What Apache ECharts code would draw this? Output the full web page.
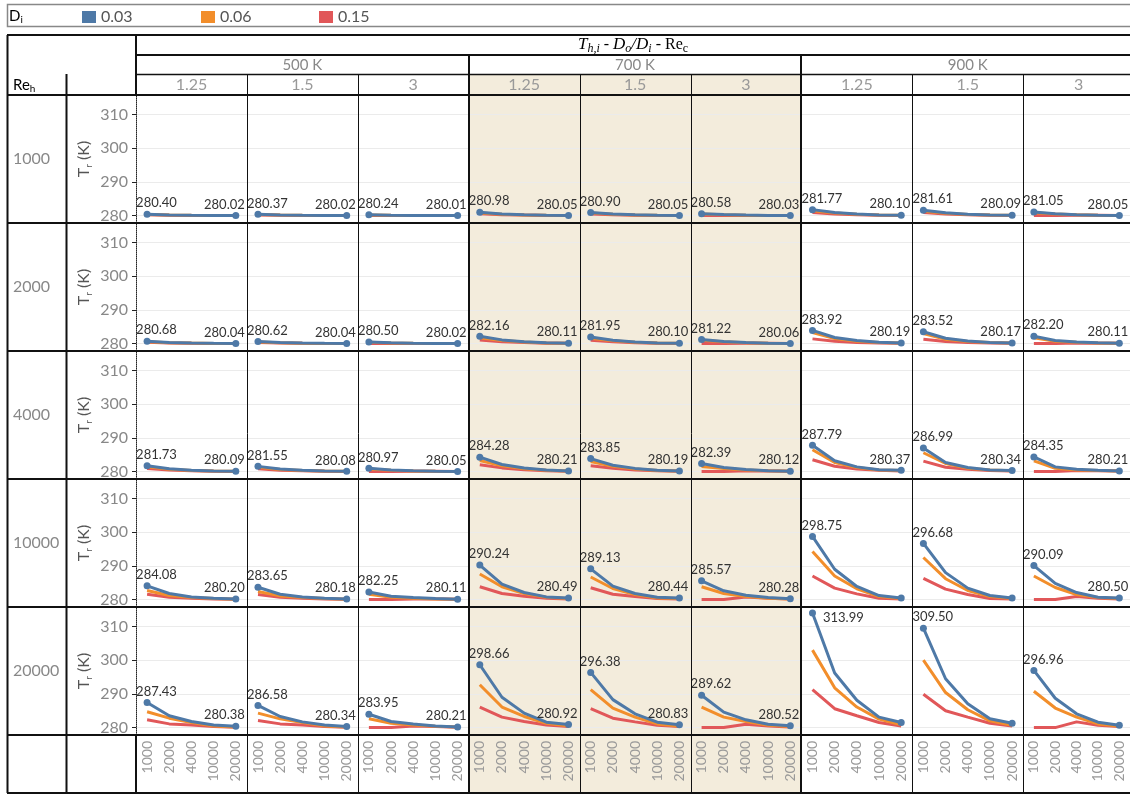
<!DOCTYPE html>
<html>
<head>
<meta charset="utf-8">
<script src="https://cdn.jsdelivr.net/npm/echarts@6/dist/echarts.min.js"></script>
<style>
  html, body { margin: 0; padding: 0; background: #fff; }
  #main { width: 1130px; height: 795px; }
</style>
</head>
<body>
<div id="main"></div>
<script>
// categories
var reC = ["1000", "2000", "4000", "10000", "20000"];
var reH = ["1000", "2000", "4000", "10000", "20000"];
var temps = ["500 K", "700 K", "900 K"];
var ratios = ["1.25", "1.5", "3"];
var diNames = ["0.03", "0.06", "0.15"];
var yTicks = [280, 290, 300, 310];

// Di = 0.03 (blue), one row of Re_h per array, 9 cells: 500K(1.25,1.5,3), 700K(..), 900K(..)
var blue1000 = [
  [280.40, 280.20, 280.10, 280.05, 280.02], [280.37, 280.18, 280.09, 280.04, 280.02], [280.24, 280.12, 280.06, 280.03, 280.01],
  [280.98, 280.50, 280.25, 280.10, 280.05], [280.90, 280.45, 280.23, 280.10, 280.05], [280.58, 280.30, 280.15, 280.06, 280.03],
  [281.77, 280.90, 280.45, 280.20, 280.10], [281.61, 280.82, 280.42, 280.18, 280.09], [281.05, 280.55, 280.28, 280.12, 280.05]
];
var blue2000 = [
  [280.68, 280.35, 280.17, 280.08, 280.04], [280.62, 280.32, 280.16, 280.07, 280.04], [280.50, 280.25, 280.12, 280.05, 280.02],
  [282.16, 281.10, 280.55, 280.22, 280.11], [281.95, 281.00, 280.50, 280.20, 280.10], [281.22, 280.62, 280.30, 280.12, 280.06],
  [283.92, 281.80, 280.90, 280.40, 280.19], [283.52, 281.60, 280.80, 280.35, 280.17], [282.20, 280.90, 280.50, 280.25, 280.11]
];
var blue4000 = [
  [281.73, 280.85, 280.42, 280.18, 280.09], [281.55, 280.78, 280.38, 280.16, 280.08], [280.97, 280.48, 280.24, 280.10, 280.05],
  [284.28, 282.10, 281.05, 280.45, 280.21], [283.85, 281.90, 280.95, 280.40, 280.19], [282.39, 281.20, 280.60, 280.26, 280.12],
  [287.79, 283.20, 281.40, 280.55, 280.37], [286.99, 282.70, 281.20, 280.50, 280.34], [284.35, 281.40, 280.70, 280.40, 280.21]
];
var blue10000 = [
  [284.08, 281.80, 280.80, 280.40, 280.20], [283.65, 281.60, 280.80, 280.40, 280.18], [282.25, 281.00, 280.60, 280.30, 280.11],
  [290.24, 284.60, 282.10, 280.80, 280.49], [289.13, 284.00, 281.80, 280.70, 280.44], [285.57, 282.60, 281.30, 280.60, 280.28],
  [298.75, 289.00, 283.90, 281.20, 280.50], [296.68, 288.00, 283.40, 281.20, 280.50], [290.09, 284.80, 282.10, 280.70, 280.50]
];
var blue20000 = [
  [287.43, 283.50, 281.80, 280.80, 280.38], [286.58, 283.30, 281.70, 280.80, 280.34], [283.95, 281.80, 281.10, 280.50, 280.21],
  [298.66, 289.00, 284.30, 281.60, 280.92], [296.38, 288.30, 284.10, 281.60, 280.83], [289.62, 284.60, 282.30, 281.00, 280.52],
  [313.99, 296.20, 288.10, 283.10, 281.50], [309.50, 294.50, 287.10, 282.60, 281.30], [296.96, 288.70, 284.10, 281.60, 280.70]
];

// Di = 0.06 (orange)
var orange1000 = [
  [280.32, 280.16, 280.08, 280.04, 280.02], [280.30, 280.15, 280.07, 280.04, 280.02], [280.20, 280.10, 280.05, 280.02, 280.01],
  [280.80, 280.40, 280.20, 280.08, 280.04], [280.75, 280.38, 280.19, 280.08, 280.04], [280.48, 280.25, 280.12, 280.05, 280.03],
  [281.45, 280.75, 280.38, 280.17, 280.08], [281.30, 280.68, 280.35, 280.15, 280.08], [280.85, 280.45, 280.23, 280.10, 280.05]
];
var orange2000 = [
  [280.55, 280.28, 280.14, 280.06, 280.03], [280.50, 280.26, 280.13, 280.06, 280.03], [280.40, 280.20, 280.10, 280.04, 280.02],
  [281.75, 280.90, 280.45, 280.18, 280.09], [281.60, 280.82, 280.42, 280.17, 280.09], [281.00, 280.52, 280.26, 280.11, 280.05],
  [283.30, 281.50, 280.70, 280.30, 280.15], [283.00, 281.30, 280.60, 280.30, 280.15], [281.70, 280.70, 280.40, 280.20, 280.10]
];
var orange4000 = [
  [281.40, 280.70, 280.35, 280.15, 280.08], [281.25, 280.64, 280.32, 280.14, 280.07], [280.80, 280.40, 280.20, 280.09, 280.04],
  [283.30, 281.70, 280.85, 280.38, 280.18], [283.00, 281.55, 280.78, 280.35, 280.17], [281.50, 280.90, 280.45, 280.22, 280.11],
  [286.50, 282.70, 281.20, 280.50, 280.30], [285.60, 282.40, 281.00, 280.45, 280.28], [283.20, 281.00, 280.50, 280.30, 280.20]
];
var orange10000 = [
  [282.70, 281.20, 280.60, 280.30, 280.10], [282.40, 281.10, 280.60, 280.30, 280.10], [281.60, 280.70, 280.40, 280.20, 280.10],
  [287.60, 283.80, 281.80, 280.70, 280.30], [286.70, 283.30, 281.50, 280.50, 280.30], [283.80, 281.80, 280.90, 280.40, 280.20],
  [294.30, 287.00, 283.20, 280.90, 280.30], [292.50, 286.20, 282.70, 280.90, 280.30], [287.00, 283.60, 281.50, 280.60, 280.30]
];
var orange20000 = [
  [284.70, 282.80, 281.50, 280.50, 280.20], [284.30, 282.60, 281.50, 280.50, 280.20], [282.60, 281.30, 280.80, 280.40, 280.20],
  [292.70, 286.10, 283.30, 281.30, 280.50], [291.30, 285.80, 283.10, 281.10, 280.40], [286.10, 283.10, 281.80, 280.70, 280.30],
  [303.00, 291.80, 286.10, 282.50, 280.80], [300.00, 290.40, 285.30, 282.00, 280.70], [290.80, 285.80, 283.10, 281.10, 280.40]
];

// Di = 0.15 (red)
var red1000 = [
  [280.22, 280.10, 280.05, 280.03, 280.01], [280.20, 280.10, 280.05, 280.03, 280.01], [280.00, 280.00, 280.02, 280.01, 280.01],
  [280.55, 280.28, 280.14, 280.06, 280.03], [280.50, 280.26, 280.13, 280.06, 280.03], [280.00, 280.00, 280.06, 280.04, 280.02],
  [280.95, 280.50, 280.25, 280.12, 280.06], [280.90, 280.47, 280.24, 280.11, 280.06], [280.00, 280.00, 280.10, 280.07, 280.04]
];
var red2000 = [
  [280.38, 280.19, 280.10, 280.05, 280.02], [280.35, 280.18, 280.09, 280.04, 280.02], [280.00, 280.00, 280.05, 280.03, 280.02],
  [281.10, 280.58, 280.30, 280.13, 280.07], [281.00, 280.52, 280.27, 280.12, 280.06], [280.00, 280.00, 280.12, 280.08, 280.05],
  [281.40, 280.70, 280.35, 280.15, 280.10], [281.30, 280.65, 280.32, 280.15, 280.10], [280.00, 280.00, 280.15, 280.12, 280.08]
];
var red4000 = [
  [280.90, 280.47, 280.24, 280.11, 280.05], [280.82, 280.43, 280.22, 280.10, 280.05], [280.00, 280.00, 280.10, 280.07, 280.04],
  [282.00, 281.10, 280.55, 280.26, 280.13], [281.70, 281.00, 280.50, 280.24, 280.12], [280.00, 280.00, 280.25, 280.17, 280.10],
  [283.50, 281.60, 280.80, 280.40, 280.20], [283.10, 281.30, 280.70, 280.30, 280.20], [280.00, 280.00, 280.30, 280.25, 280.20]
];
var red10000 = [
  [281.60, 280.70, 280.40, 280.20, 280.10], [281.50, 280.70, 280.40, 280.20, 280.10], [280.00, 280.00, 280.20, 280.15, 280.10],
  [283.80, 281.80, 281.00, 280.40, 280.20], [283.50, 281.60, 280.90, 280.30, 280.20], [280.00, 280.00, 280.80, 280.40, 280.20],
  [287.00, 283.40, 281.70, 280.40, 280.20], [286.30, 283.10, 281.50, 280.30, 280.20], [280.00, 280.00, 280.90, 280.40, 280.20]
];
var red20000 = [
  [282.30, 281.10, 280.80, 280.30, 280.10], [282.10, 281.10, 280.80, 280.30, 280.10], [280.00, 280.00, 280.50, 280.30, 280.10],
  [286.10, 283.10, 281.80, 280.80, 280.30], [285.60, 282.80, 281.70, 280.70, 280.30], [280.00, 280.00, 281.00, 280.50, 280.20],
  [291.30, 285.60, 283.50, 281.50, 280.50], [289.90, 285.00, 283.10, 281.30, 280.50], [280.00, 280.00, 281.70, 280.70, 280.30]
];

// cells [row, col] where the end label is not drawn
var hiddenEndLabels = [[3, 6], [3, 7], [4, 6], [4, 7], [4, 8]];

var diValues = [
  [blue1000, blue2000, blue4000, blue10000, blue20000],
  [orange1000, orange2000, orange4000, orange10000, orange20000],
  [red1000, red2000, red4000, red10000, red20000]
];
var diColors = ["#4e79a7", "#f28e2b", "#e15759"];

var font = 'Lato, "Noto Sans", sans-serif';
var serif = '"Liberation Serif", "DejaVu Serif", serif';
var x0 = 136, y0 = 95, cellW = 110.9, cellH = 128;
var yMin = 277.8, yMax = 315.8;

var myChart = echarts.init(document.getElementById("main"));

var grids = [], xAxes = [], yAxes = [], series = [];

function isHidden(r, c) {
  for (var i = 0; i < hiddenEndLabels.length; i++) {
    if (hiddenEndLabels[i][0] === r && hiddenEndLabels[i][1] === c) return true;
  }
  return false;
}

for (var r = 0; r < reH.length; r++) {
  for (var c = 0; c < 9; c++) {
    var idx = r * 9 + c;
    grids.push({
      left: x0 + c * cellW,
      top: y0 + r * cellH,
      width: cellW,
      height: cellH
    });
    xAxes.push({
      gridIndex: idx,
      type: "category",
      data: reC,
      boundaryGap: true,
      axisLine: { show: false },
      axisTick: { show: false },
      splitLine: { show: false },
      axisLabel: {
        show: r === reH.length - 1,
        rotate: 90,
        margin: 6,
        interval: 0,
        color: "#999",
        fontSize: 14,
        fontFamily: font
      }
    });
    yAxes.push({
      gridIndex: idx,
      type: "value",
      min: yMin,
      max: yMax,
      name: c === 0 ? "{a|T}{b|r}{a| (K)}" : "",
      nameLocation: "middle",
      nameGap: 42,
      nameRotate: 90,
      nameTextStyle: {
        rich: {
          a: { fontSize: 16, color: "#555", fontFamily: font, lineHeight: 20, verticalAlign: "middle" },
          b: { fontSize: 10, color: "#555", fontFamily: font, lineHeight: 10, verticalAlign: "bottom" }
        }
      },
      axisLine: { show: c === 0, lineStyle: { type: "dotted", color: "#222", width: 1 } },
      axisTick: { show: c === 0, length: 4, customValues: yTicks, lineStyle: { color: "#222" } },
      axisLabel: {
        show: c === 0,
        customValues: yTicks,
        margin: 8,
        color: "#888",
        fontSize: 16,
        fontFamily: font
      },
      splitLine: { show: true, lineStyle: { color: "#ebebeb", width: 1 } }
    });

    // red first, blue last so blue is on top
    for (var d = 2; d >= 0; d--) {
      var vals = diValues[d][r][c];
      var data = vals.map(function(v, i) {
        if (d !== 0) return v;
        var item = { value: v };
        if (i === 0 || i === vals.length - 1) {
          var last = i === vals.length - 1;
          var lbl = {
            show: !(last && isHidden(r, c)),
            formatter: v.toFixed(2),
            color: "#333",
            fontSize: 13,
            fontFamily: font
          };
          if (v > 312) {
            lbl.position = "right";
            lbl.distance = 7;
            lbl.offset = [0, 5];
          } else {
            lbl.position = "top";
            lbl.distance = 1;
            lbl.align = last ? "right" : "left";
            lbl.offset = last ? [9, 0] : [-11, 0];
          }
          item.label = lbl;
        } else {
          item.symbol = "none";
        }
        return item;
      });
      series.push({
        type: "line",
        name: diNames[d],
        xAxisIndex: idx,
        yAxisIndex: idx,
        data: data,
        symbol: "circle",
        symbolSize: 7,
        showSymbol: d === 0,
        showAllSymbol: true,
        silent: true,
        lineStyle: { width: 3, color: diColors[d] },
        itemStyle: { color: diColors[d] }
      });
    }
  }
}

// table lines and header texts
var graphics = [];
var totalRight = 1130;
var tableBottom = 793;
var plotBottom = y0 + reH.length * cellH;

function hline(x1, x2, y, w) {
  graphics.push({ type: "line", shape: { x1: x1, y1: y, x2: x2, y2: y }, style: { stroke: "#111", lineWidth: w }, z: 10 });
}
function vline(x, y1, y2, w) {
  graphics.push({ type: "line", shape: { x1: x, y1: y1, x2: x, y2: y2 }, style: { stroke: "#111", lineWidth: w }, z: 10 });
}

// 700 K background
graphics.push({
  type: "rect",
  shape: { x: x0 + 3 * cellW, y: 74, width: 3 * cellW, height: tableBottom - 74 },
  style: { fill: "#f3ecdc" },
  z: -10
});

// legend box
graphics.push({
  type: "rect",
  shape: { x: 7.5, y: 4.5, width: 1130, height: 22 },
  style: { fill: null, stroke: "#888", lineWidth: 1.5 },
  z: 10
});
graphics.push({
  type: "text",
  style: {
    text: "{a|D}{b|i}", x: 9, y: 16, verticalAlign: "middle",
    rich: {
      a: { fontSize: 15, color: "#333", fontFamily: font, lineHeight: 18, verticalAlign: "middle" },
      b: { fontSize: 10, color: "#333", fontFamily: font, lineHeight: 9, verticalAlign: "bottom" }
    }
  },
  z: 10
});

hline(7, totalRight, 35, 2);
hline(x0, totalRight, 55, 2);
hline(x0, totalRight, 74.5, 1.5);
hline(7, totalRight, y0, 2);
for (var k = 1; k <= reH.length; k++) hline(7, totalRight, y0 + k * cellH, 2);
hline(7, totalRight, tableBottom, 2);
vline(7.5, 35, tableBottom, 2);
vline(66.5, 74, tableBottom, 2);
vline(x0, 35, y0, 2);
vline(x0, plotBottom, tableBottom, 2);
for (var k = 1; k < 9; k++) {
  var xx = x0 + k * cellW;
  if (k % 3 === 0) vline(Math.round(xx), 55, tableBottom, 2);
  else vline(Math.round(xx) + 0.5, 74, tableBottom, 1);
}

// title
graphics.push({
  type: "text",
  style: {
    text: "{ti|T}{ts|h,i}{n| - }{ti|D}{ts|o}{ti|/D}{ts|i}{n| - Re}{ns|c}",
    x: (x0 + totalRight) / 2, y: 45, align: "center", verticalAlign: "middle",
    rich: {
      ti: { fontFamily: serif, fontStyle: "italic", fontSize: 17, color: "#222", lineHeight: 20, verticalAlign: "middle" },
      ts: { fontFamily: serif, fontStyle: "italic", fontSize: 12, color: "#222", lineHeight: 10, verticalAlign: "bottom" },
      n: { fontFamily: serif, fontSize: 16, color: "#222", lineHeight: 20, verticalAlign: "middle" },
      ns: { fontFamily: serif, fontSize: 12, color: "#222", lineHeight: 10, verticalAlign: "bottom" }
    }
  },
  z: 10
});

temps.forEach(function(t, i) {
  graphics.push({
    type: "text",
    style: { text: t, x: x0 + (i * 3 + 1.5) * cellW, y: 65, align: "center", verticalAlign: "middle", fontSize: 15, fill: "#888", fontFamily: font },
    z: 10
  });
  ratios.forEach(function(rt, j) {
    graphics.push({
      type: "text",
      style: { text: rt, x: x0 + (i * 3 + j + 0.5) * cellW, y: 85, align: "center", verticalAlign: "middle", fontSize: 16, fill: "#999", fontFamily: font },
      z: 10
    });
  });
});

graphics.push({
  type: "text",
  style: {
    text: "{a|Re}{b|h}", x: 13, y: 85, verticalAlign: "middle",
    rich: {
      a: { fontSize: 15, color: "#333", fontFamily: font, lineHeight: 18, verticalAlign: "middle" },
      b: { fontSize: 10, color: "#333", fontFamily: font, lineHeight: 9, verticalAlign: "bottom" }
    }
  },
  z: 10
});

reH.forEach(function(rh, i) {
  graphics.push({
    type: "text",
    style: { text: rh, x: 13, y: y0 + (i + 0.5) * cellH, verticalAlign: "middle", fontSize: 16, fill: "#888", fontFamily: font },
    z: 10
  });
});

var legendLeft = [82, 201, 319];
var option = {
  animation: false,
  backgroundColor: "#fff",
  color: diColors,
  legend: diNames.map(function(n, i) {
    return {
      data: [{ name: n, icon: "rect", itemStyle: { color: diColors[i], borderWidth: 0 } }],
      left: legendLeft[i],
      top: 7,
      padding: 0,
      itemWidth: 14,
      itemHeight: 12,
      selectedMode: false,
      itemStyle: { borderWidth: 0 },
      lineStyle: { width: 0 },
      textStyle: { color: "#555", fontSize: 16, fontFamily: font, lineHeight: 20 }
    };
  }),
  grid: grids,
  xAxis: xAxes,
  yAxis: yAxes,
  series: series,
  graphic: graphics
};
myChart.setOption(option);
</script>
</body>
</html>
